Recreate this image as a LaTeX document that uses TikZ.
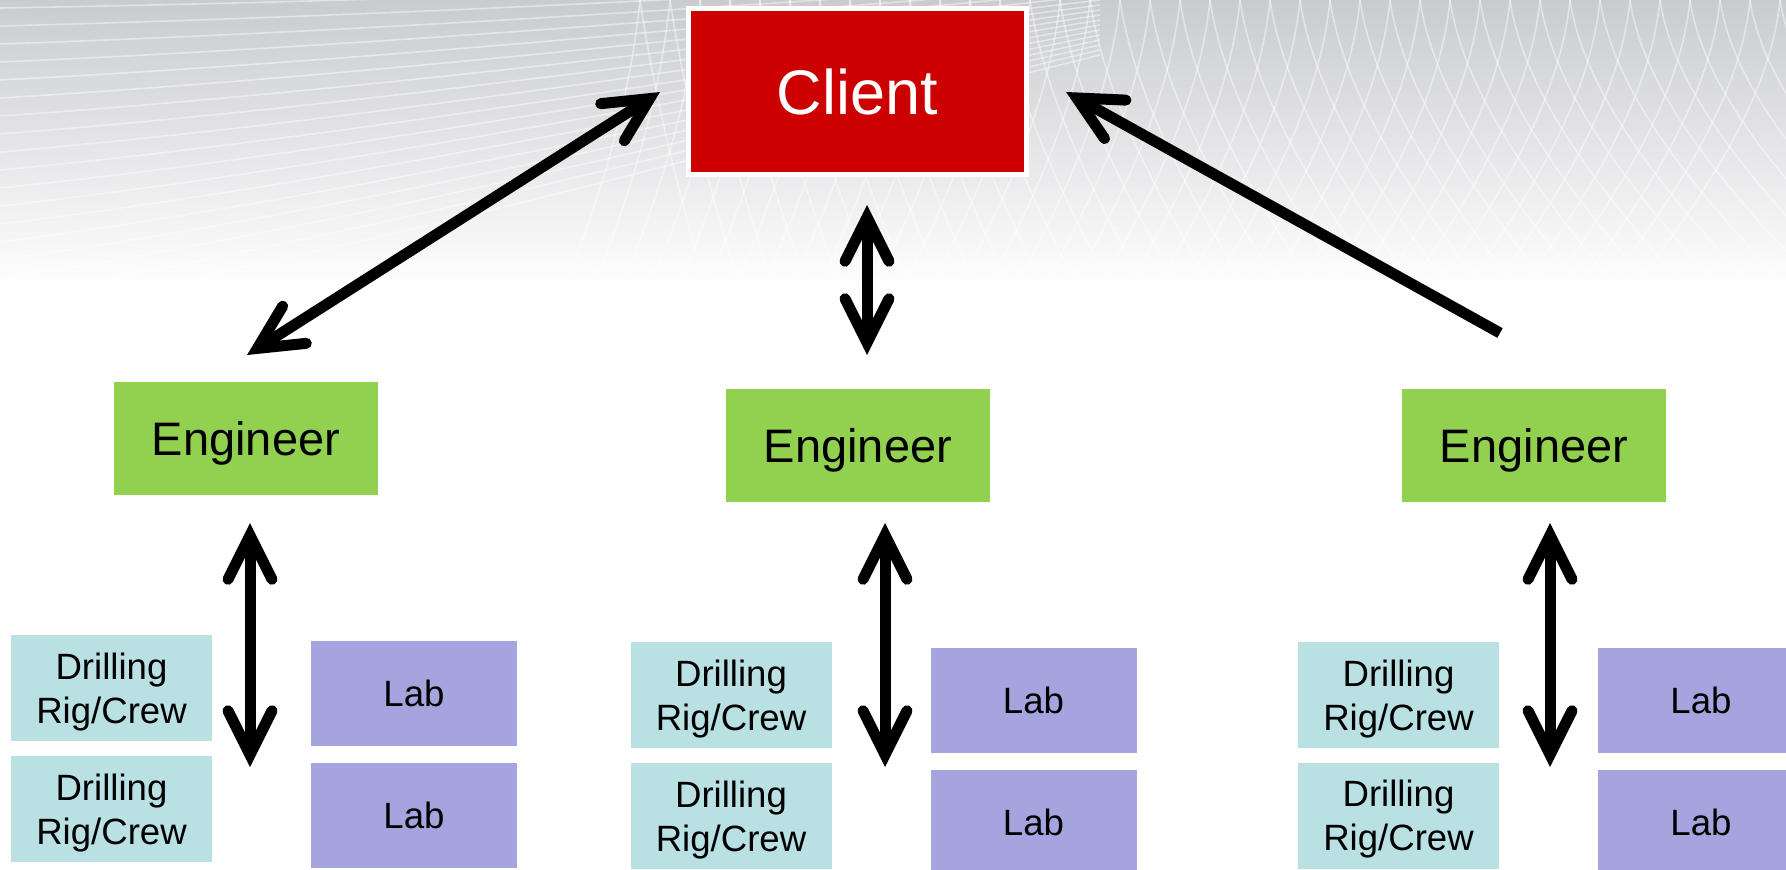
\documentclass[tikz,border=0pt]{standalone}
\usepackage{fontspec}
\setmainfont{Liberation Sans}
\usetikzlibrary{arrows.meta}

\definecolor{clientred}{RGB}{204,0,0}
\definecolor{enggreen}{RGB}{146,208,80}
\definecolor{rigblue}{RGB}{185,224,226}
\definecolor{labviolet}{RGB}{164,164,222}
\definecolor{skygray}{RGB}{202,203,207}

\begin{document}
\begin{tikzpicture}[
  x=0.5pt, y=-0.5pt,
  box/.style={inner sep=0pt, align=center},
  client/.style={box, fill=clientred, draw=white, line width=2.5pt,
    minimum width=169pt, minimum height=83pt, text=white,
    font=\fontsize{31.5}{38}\selectfont},
  engineer/.style={box, fill=enggreen, minimum width=132pt, minimum height=56.5pt,
    text height=16.9pt, text depth=0pt, font=\fontsize{23.5}{28}\selectfont},
  rig/.style={box, fill=rigblue, minimum width=100.5pt, minimum height=53pt,
    text height=35.2pt, text depth=0pt, font=\fontsize{18.3}{22}\selectfont},
  lab/.style={box, fill=labviolet, minimum width=103pt, minimum height=52.5pt,
    font=\fontsize{18.3}{22}\selectfont},
  barb/.tip={Straight Barb[length=22pt, width=22pt, line cap=round]},
  link/.style={line width=5.5pt},
  grid/.style={white, opacity=0.45, line width=0.8pt}]
\useasboundingbox (0,0) rectangle (1786,869);
\clip (0,0) rectangle (1786,869);
\fill[white] (0,0) rectangle (1786,869);
\shade[top color=skygray, bottom color=white] (0,0) rectangle (1786,290);
\begin{scope}
  \clip (0,0) rectangle (1786,290);
  \foreach \i in {0,...,17}
    \draw[grid] (0,8+18*\i) .. controls (350,2+15*\i) and (750,-12+9*\i) .. (1100,-30+5*\i);
  \foreach \i in {0,...,38}
    \draw[grid] (640+30*\i,0) .. controls (630+30*\i,100) and (600+29*\i,200) .. (560+28*\i,300);
  \foreach \i in {0,...,38}
    \draw[grid] (640+30*\i,0) .. controls (655+30*\i,100) and (680+32*\i,200) .. (710+34*\i,300);
\end{scope}

\node[client] (client) at (857.5,91.5) {Client};
\node[engineer] (eng1) at (246,438.5) {Engineer};
\node[engineer] (eng2) at (858,445.5) {Engineer};
\node[engineer] (eng3) at (1534,445.5) {Engineer};

\node[rig] (rig1a) at (111.5,688) {Drilling\\Rig/Crew};
\node[rig] (rig1b) at (111.5,809) {Drilling\\Rig/Crew};
\node[lab] (lab1a) at (414,693.5) {Lab};
\node[lab] (lab1b) at (414,815) {Lab};

\node[rig] (rig2a) at (731,695) {Drilling\\Rig/Crew};
\node[rig] (rig2b) at (731,816) {Drilling\\Rig/Crew};
\node[lab] (lab2a) at (1033.5,700) {Lab};
\node[lab] (lab2b) at (1033.5,822) {Lab};

\node[rig] (rig3a) at (1398.5,695) {Drilling\\Rig/Crew};
\node[rig] (rig3b) at (1398.5,815.5) {Drilling\\Rig/Crew};
\node[lab] (lab3a) at (1701,700) {Lab};
\node[lab] (lab3b) at (1701,822) {Lab};

\coordinate (up1) at (660,92);
\coordinate (dn1) at (247,355);
\coordinate (up2) at (867,205);
\coordinate (dn2) at (867,355);
\coordinate (up3) at (1066,92);
\coordinate (dn3) at (1500,333);
\coordinate (top1) at (250,523);
\coordinate (bot1) at (250,767);
\coordinate (top2) at (885,523);
\coordinate (bot2) at (885,767);
\coordinate (top3) at (1550,523);
\coordinate (bot3) at (1550,767);

\draw[link, barb-barb] (dn1) -- (up1);
\draw[link, barb-barb] (dn2) -- (up2);
\draw[link, -barb] (dn3) -- (up3);
\draw[link, barb-barb] (top1) -- (bot1);
\draw[link, barb-barb] (top2) -- (bot2);
\draw[link, barb-barb] (top3) -- (bot3);
\end{tikzpicture}
\end{document}
